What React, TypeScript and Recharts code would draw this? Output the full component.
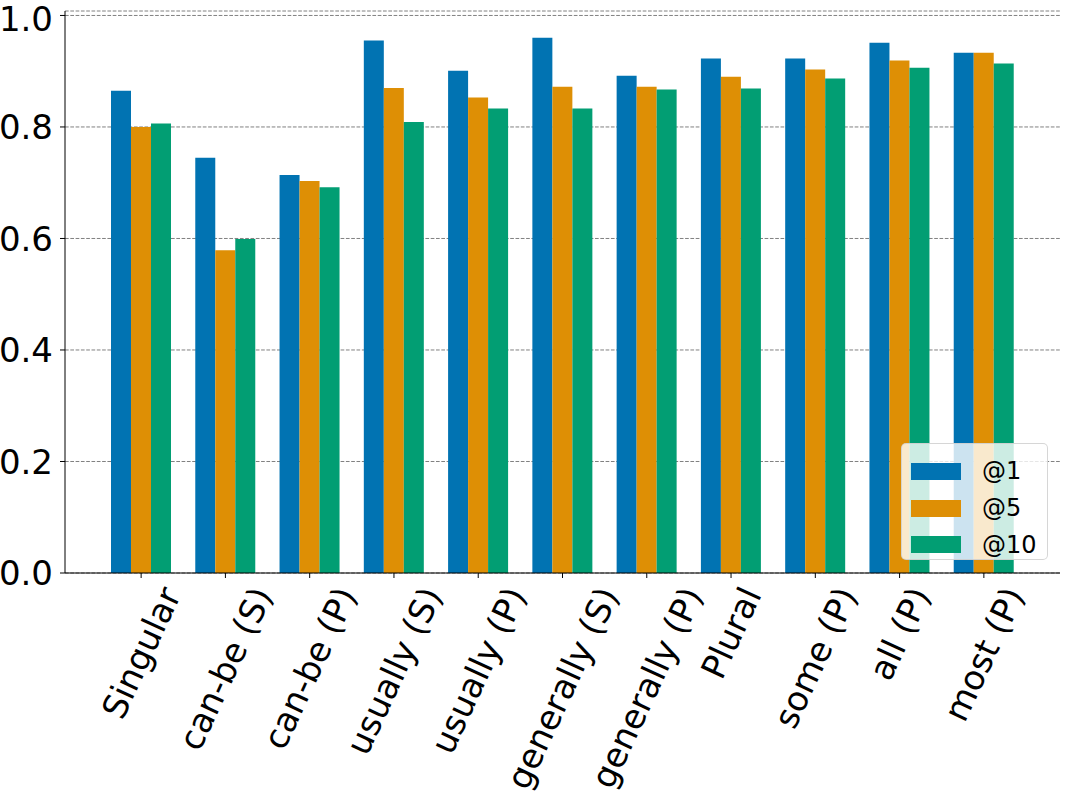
import { Bar, BarChart, CartesianGrid, Legend, XAxis, YAxis } from "recharts";

const categories = [
  "Singular",
  "can-be (S)",
  "can-be (P)",
  "usually (S)",
  "usually (P)",
  "generally (S)",
  "generally (P)",
  "Plural",
  "some (P)",
  "all (P)",
  "most (P)"
];

const at1 = [0.865, 0.745, 0.714, 0.955, 0.901, 0.96, 0.892, 0.923, 0.923, 0.951, 0.933];
const at5 = [0.8, 0.579, 0.703, 0.87, 0.853, 0.872, 0.872, 0.89, 0.903, 0.919, 0.933];
const at10 = [0.806, 0.599, 0.692, 0.809, 0.833, 0.833, 0.867, 0.869, 0.887, 0.906, 0.914];

const yTicks = [0, 0.2, 0.4, 0.6, 0.8, 1.0];

const series = [
  { key: "at1", name: "@1", color: "#0173b2" },
  { key: "at5", name: "@5", color: "#de8f05" },
  { key: "at10", name: "@10", color: "#029e73" }
];

const rows = categories.map((name, i) => ({
  name,
  at1: at1[i],
  at5: at5[i],
  at10: at10[i]
}));

const FONT = "'DejaVu Sans', sans-serif";
const Y_TICK_SIZE = 34;
const X_TICK_SIZE = 34;
const ANGLE = 65;

let measureCtx: CanvasRenderingContext2D | null = null;
function textWidth(text: string) {
  if (!measureCtx) {
    measureCtx = document.createElement("canvas").getContext("2d");
  }
  if (!measureCtx) return text.length * X_TICK_SIZE * 0.6;
  measureCtx.font = `${X_TICK_SIZE}px 'DejaVu Sans'`;
  return measureCtx.measureText(text).width;
}

// matplotlib style: rotated label box centred on the tick, top-aligned
function RotatedTick(props: any) {
  const { x, y, payload } = props;
  const label = String(payload.value);
  const w = textWidth(label);
  const h = X_TICK_SIZE * 1.16;
  const rad = (ANGLE * Math.PI) / 180;
  const boxH = w * Math.sin(rad) + h * Math.cos(rad);
  const cx = x;
  const cy = y + 1 + boxH / 2;
  return (
    <text
      x={cx}
      y={cy}
      textAnchor="middle"
      dominantBaseline="central"
      fontSize={X_TICK_SIZE}
      fontFamily={FONT}
      fill="#000"
      transform={`rotate(${-ANGLE} ${cx} ${cy})`}
    >
      {label}
    </text>
  );
}

function LegendBox() {
  return (
    <div
      style={{
        boxSizing: "border-box",
        width: 147,
        height: 117,
        background: "rgba(255,255,255,0.8)",
        border: "1px solid rgba(204,204,204,0.8)",
        borderRadius: 5,
        padding: "9px 0 0 9px",
        fontFamily: FONT,
        fontSize: 24
      }}
    >
      {series.map((s) => (
        <div key={s.key} style={{ display: "flex", alignItems: "center", height: 36.7 }}>
          <span style={{ display: "inline-block", width: 50, height: 17, background: s.color }} />
          <span style={{ marginLeft: 21, color: "#000" }}>{s.name}</span>
        </div>
      ))}
    </div>
  );
}

export default function App() {
  return (
    <div style={{ position: "absolute", left: 0, top: 0, width: 1071, height: 798, background: "#fff" }}>
      <BarChart
        width={1071}
        height={798}
        data={rows}
        margin={{ top: 11, right: 11, bottom: 0, left: 0 }}
        barSize={20}
        barGap={0}
      >
        <CartesianGrid
          vertical={false}
          stroke="#808080"
          strokeDasharray="3.7 1.6"
          strokeWidth={1}
        />
        <XAxis
          dataKey="name"
          height={225}
          interval={0}
          padding={{ left: 34, right: 34 }}
          tick={<RotatedTick />}
          tickSize={5}
          tickLine={{ stroke: "#000" }}
          axisLine={{ stroke: "#000" }}
        />
        <XAxis
          xAxisId="top"
          dataKey="name"
          orientation="top"
          height={0}
          tick={false}
          tickLine={false}
          axisLine={{ stroke: "#000" }}
        />
        <YAxis
          domain={[0, 1.008]}
          ticks={yTicks}
          width={65}
          tickSize={5}
          tickMargin={7}
          tickFormatter={(v: number) => v.toFixed(1)}
          tick={{ fontSize: Y_TICK_SIZE, fontFamily: FONT, fill: "#000" }}
          tickLine={{ stroke: "#000" }}
          axisLine={{ stroke: "#000" }}
        />
        <YAxis
          yAxisId="right"
          orientation="right"
          width={0}
          tick={false}
          tickLine={false}
          axisLine={{ stroke: "#000" }}
        />
        <Legend
          layout="vertical"
          align="center"
          verticalAlign="middle"
          content={<LegendBox />}
          wrapperStyle={{ position: "absolute", left: 901, top: 443, width: 147, height: 117 }}
        />
        {series.map((s) => (
          <Bar
            key={s.key}
            dataKey={s.key}
            name={s.name}
            fill={s.color}
            isAnimationActive={false}
          />
        ))}
      </BarChart>
    </div>
  );
}
